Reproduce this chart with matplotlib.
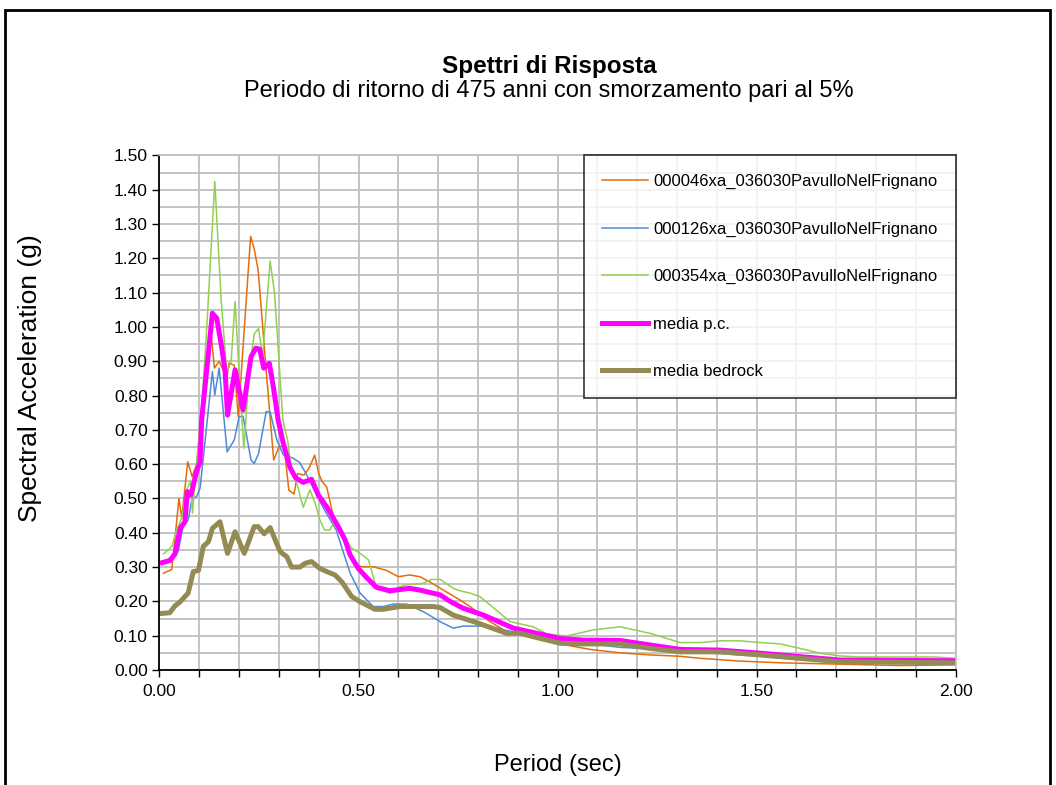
import matplotlib.pyplot as plt
from matplotlib.patches import Rectangle
from matplotlib.ticker import MultipleLocator

plt.rcParams["font.family"] = ["Liberation Sans", "DejaVu Sans"]

# Series (period in sec, spectral acceleration in g)
t_046 = [0.01, 0.031, 0.049, 0.056, 0.071, 0.082, 0.093, 0.11, 0.128, 0.138,
         0.15, 0.169, 0.175, 0.188, 0.198, 0.229, 0.238, 0.248, 0.258, 0.268,
         0.287, 0.30, 0.313, 0.325, 0.338, 0.347, 0.363, 0.375, 0.39, 0.40,
         0.408, 0.42, 0.437, 0.458, 0.487, 0.508, 0.537, 0.571, 0.60, 0.629,
         0.654, 0.679, 0.713, 0.755, 0.78, 0.83, 0.872, 0.939, 1.006, 1.082,
         1.157, 1.232, 1.308, 1.358, 1.458, 1.559, 1.709, 1.86, 2.0]
sa_046 = [0.282, 0.293, 0.50, 0.442, 0.607, 0.564, 0.598, 0.80, 1.00, 0.88,
          0.90, 0.85, 0.895, 0.888, 0.738, 1.264, 1.228, 1.165, 1.02, 0.874,
          0.612, 0.65, 0.655, 0.524, 0.513, 0.573, 0.568, 0.587, 0.626, 0.573,
          0.55, 0.534, 0.447, 0.398, 0.311, 0.301, 0.301, 0.29, 0.272, 0.277,
          0.272, 0.257, 0.233, 0.204, 0.185, 0.141, 0.112, 0.095, 0.076, 0.06,
          0.05, 0.044, 0.040, 0.034, 0.026, 0.021, 0.017, 0.013, 0.015]

t_126 = [0.01, 0.035, 0.047, 0.06, 0.072, 0.082, 0.093, 0.102, 0.114, 0.133,
         0.139, 0.15, 0.17, 0.188, 0.20, 0.21, 0.23, 0.238, 0.249, 0.268,
         0.278, 0.295, 0.311, 0.335, 0.352, 0.368, 0.385, 0.41, 0.444, 0.479,
         0.504, 0.537, 0.562, 0.587, 0.621, 0.663, 0.705, 0.738, 0.763, 0.822,
         0.864, 0.939, 1.006, 1.157, 1.232, 1.308, 1.408, 1.509, 1.609, 1.709,
         2.0]
sa_126 = [0.31, 0.335, 0.345, 0.423, 0.437, 0.50, 0.505, 0.53, 0.661, 0.87,
          0.802, 0.88, 0.636, 0.671, 0.738, 0.74, 0.612, 0.602, 0.631, 0.753,
          0.752, 0.67, 0.627, 0.618, 0.605, 0.573, 0.534, 0.476, 0.408, 0.282,
          0.224, 0.185, 0.185, 0.192, 0.192, 0.17, 0.141, 0.122, 0.128, 0.128,
          0.117, 0.10, 0.087, 0.066, 0.062, 0.052, 0.048, 0.04, 0.03, 0.024,
          0.02]

t_354 = [0.01, 0.031, 0.043, 0.055, 0.07, 0.078, 0.083, 0.093, 0.105, 0.118,
         0.139, 0.155, 0.169, 0.18, 0.19, 0.202, 0.212, 0.226, 0.238, 0.249,
         0.259, 0.278, 0.289, 0.31, 0.322, 0.332, 0.344, 0.361, 0.378, 0.391,
         0.403, 0.415, 0.428, 0.437, 0.454, 0.483, 0.504, 0.525, 0.545, 0.579,
         0.60, 0.621, 0.663, 0.683, 0.705, 0.738, 0.755, 0.78, 0.805, 0.881,
         0.939, 0.973, 1.023, 1.09, 1.157, 1.232, 1.308, 1.358, 1.408, 1.458,
         1.509, 1.559, 1.609, 1.659, 1.709, 1.759, 1.944, 2.0]
sa_354 = [0.338, 0.36, 0.408, 0.44, 0.53, 0.55, 0.457, 0.60, 0.75, 0.98,
          1.424, 1.08, 0.865, 0.90, 1.074, 0.826, 0.646, 0.875, 0.98, 0.995,
          0.913, 1.192, 1.10, 0.728, 0.67, 0.578, 0.549, 0.474, 0.525, 0.486,
          0.437, 0.408, 0.408, 0.428, 0.403, 0.355, 0.34, 0.321, 0.238, 0.224,
          0.241, 0.248, 0.253, 0.264, 0.264, 0.238, 0.231, 0.224, 0.214, 0.141,
          0.126, 0.105, 0.099, 0.117, 0.126, 0.107, 0.08, 0.08, 0.085, 0.085,
          0.08, 0.076, 0.063, 0.049, 0.041, 0.038, 0.038, 0.034]

t_pc = [0.007, 0.026, 0.039, 0.052, 0.064, 0.07, 0.079, 0.093, 0.102, 0.106,
        0.133, 0.144, 0.156, 0.165, 0.171, 0.19, 0.21, 0.23, 0.242, 0.252,
        0.262, 0.276, 0.286, 0.298, 0.311, 0.328, 0.342, 0.361, 0.382, 0.399,
        0.42, 0.449, 0.466, 0.479, 0.50, 0.52, 0.545, 0.579, 0.629, 0.654,
        0.705, 0.73, 0.763, 0.814, 0.889, 0.948, 1.006, 1.065, 1.157, 1.232,
        1.308, 1.408, 1.509, 1.609, 1.709, 2.0]
sa_pc = [0.313, 0.319, 0.338, 0.413, 0.432, 0.52, 0.51, 0.578, 0.607, 0.729,
         1.04, 1.025, 0.943, 0.87, 0.743, 0.875, 0.758, 0.913, 0.938, 0.935,
         0.88, 0.894, 0.826, 0.729, 0.661, 0.59, 0.56, 0.547, 0.556, 0.51,
         0.476, 0.418, 0.38, 0.335, 0.295, 0.27, 0.241, 0.231, 0.238, 0.233,
         0.219, 0.20, 0.18, 0.16, 0.122, 0.107, 0.092, 0.087, 0.086, 0.073,
         0.06, 0.058, 0.049, 0.039, 0.029, 0.027]

t_bed = [0.007, 0.026, 0.039, 0.052, 0.064, 0.072, 0.085, 0.098, 0.11, 0.123,
         0.133, 0.152, 0.171, 0.19, 0.213, 0.238, 0.248, 0.263, 0.278, 0.303,
         0.32, 0.332, 0.353, 0.366, 0.382, 0.403, 0.42, 0.441, 0.458, 0.483,
         0.504, 0.541, 0.562, 0.604, 0.688, 0.705, 0.738, 0.797, 0.872, 0.906,
         0.939, 1.006, 1.065, 1.157, 1.232, 1.308, 1.408, 1.509, 1.609, 1.709,
         2.0]
sa_bed = [0.165, 0.167, 0.187, 0.199, 0.214, 0.224, 0.287, 0.29, 0.36, 0.374,
          0.413, 0.432, 0.34, 0.403, 0.34, 0.418, 0.418, 0.397, 0.415, 0.345,
          0.33, 0.30, 0.30, 0.311, 0.316, 0.296, 0.287, 0.277, 0.257, 0.214,
          0.199, 0.177, 0.177, 0.185, 0.185, 0.182, 0.16, 0.138, 0.107, 0.107,
          0.097, 0.078, 0.076, 0.076, 0.063, 0.053, 0.053, 0.044, 0.034, 0.024,
          0.021]

labels = ["000046xa_036030PavulloNelFrignano",
          "000126xa_036030PavulloNelFrignano",
          "000354xa_036030PavulloNelFrignano",
          "media p.c.",
          "media bedrock"]

fig = plt.figure(figsize=(10.56, 7.85), dpi=100)
ax = fig.add_axes([0.151, 0.1465, 0.754, 0.6555])

# chart area border (runs off the bottom of the image)
fig.patches.append(Rectangle((5 / 1056, -0.05), 1045 / 1056, 1.05 - 10 / 785,
                             transform=fig.transFigure, fill=False,
                             edgecolor="black", linewidth=2))

ax.plot(t_046, sa_046, color="#E46C0A", lw=1.1, label=labels[0])
ax.plot(t_126, sa_126, color="#4F8AD8", lw=1.1, label=labels[1])
ax.plot(t_354, sa_354, color="#92D050", lw=1.1, label=labels[2])
ax.plot(t_pc, sa_pc, color="#FF00FF", lw=3.6, label=labels[3])
ax.plot(t_bed, sa_bed, color="#948A54", lw=3.6, label=labels[4])

ax.set_xlim(0, 2.0)
ax.set_ylim(0, 1.5)
ax.xaxis.set_major_locator(MultipleLocator(0.5))
ax.xaxis.set_minor_locator(MultipleLocator(0.1))
ax.yaxis.set_major_locator(MultipleLocator(0.1))
ax.yaxis.set_minor_locator(MultipleLocator(0.05))
ax.xaxis.set_major_formatter(lambda v, p: f"{v:.2f}")
ax.yaxis.set_major_formatter(lambda v, p: f"{v:.2f}")
ax.tick_params(which="both", direction="out", length=5, width=1, labelsize=12.5)
ax.tick_params(axis="y", which="minor", length=0)
ax.tick_params(axis="x", which="both", pad=5)

ax.grid(axis="x", which="both", color="#BFBFBF", lw=1.3)
ax.grid(axis="y", which="both", color="#BFBFBF", lw=1.3)
ax.set_axisbelow(True)
for s in ["top", "right"]:
    ax.spines[s].set_color("#BFBFBF")
    ax.spines[s].set_linewidth(1.3)
for s in ["left", "bottom"]:
    ax.spines[s].set_linewidth(1.3)

fig.text(557.5 / 1056, 1 - 765 / 785, "Period (sec)", ha="center", va="center",
         fontsize=17)
fig.text(30 / 1056, 1 - 378 / 785, "Spectral Acceleration (g)", ha="center",
         va="center", rotation=90, fontsize=19)

fig.text(549 / 1056, 1 - 66 / 785, "Spettri di Risposta", ha="center",
         va="center", fontsize=17.5, fontweight="bold")
fig.text(549 / 1056, 1 - 91 / 785,
         "Periodo di ritorno di 475 anni con smorzamento pari al 5%",
         ha="center", va="center", fontsize=17)

leg = ax.legend(loc="upper right", bbox_to_anchor=(1.0, 1.0), fontsize=12,
                frameon=True, fancybox=False, edgecolor="black",
                labelspacing=1.95, handlelength=2.75, borderpad=1.1,
                handletextpad=0.3, borderaxespad=0)
leg.get_frame().set_linewidth(1.2)

fig.savefig("out.png", dpi=100)
